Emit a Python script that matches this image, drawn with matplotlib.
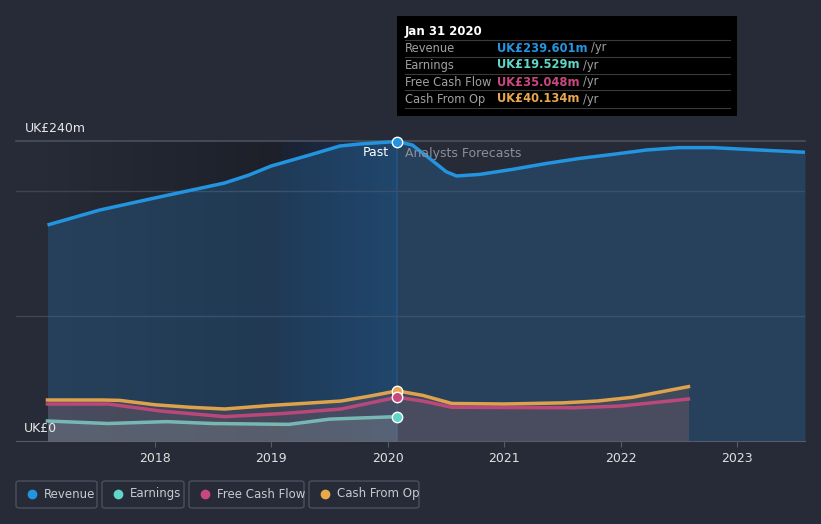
import numpy as np
import matplotlib
matplotlib.use('Agg')
import matplotlib.pyplot as plt
from matplotlib.patches import FancyBboxPatch, Rectangle
from matplotlib.colors import to_rgb

# dades llegides del gràfic (anys decimals, milions de lliures)
rev_x = [2017.08, 2017.53, 2018.0, 2018.6, 2018.81, 2019.0, 2019.33, 2019.59, 2019.76, 2020.08,
         2020.21, 2020.36, 2020.50, 2020.59, 2020.79, 2021.07, 2021.36, 2021.64, 2021.93, 2022.22,
         2022.50, 2022.79, 2023.08, 2023.36, 2023.58]
rev_y = [172.8, 184.8, 194.4, 206.4, 212.8, 220.0, 228.8, 236.0, 237.6, 239.6,
         236.8, 226.0, 215.5, 212.0, 213.3, 217.3, 222.0, 226.0, 229.3, 232.8,
         234.7, 234.7, 233.3, 232.0, 231.0]

earn_x = [2017.08, 2017.6, 2018.1, 2018.5, 2019.15, 2019.5, 2020.08]
earn_y = [16.0, 14.0, 15.5, 14.0, 13.3, 17.5, 19.5]

fcf_x = [2017.08, 2017.6, 2018.05, 2018.6, 2019.1, 2019.6, 2020.08,
         2020.3, 2020.55, 2021.0, 2021.6, 2022.0, 2022.58]
fcf_y = [29.6, 29.6, 24.0, 19.5, 22.0, 25.6, 35.0,
         32.0, 27.0, 26.8, 26.6, 28.0, 33.6]

cfo_x = [2017.08, 2017.55, 2017.7, 2018.0, 2018.3, 2018.6, 2019.0, 2019.35, 2019.6, 2019.85, 2020.08,
         2020.3, 2020.55, 2021.0, 2021.5, 2021.8, 2022.1, 2022.58]
cfo_y = [32.8, 32.8, 32.5, 29.0, 27.0, 25.6, 28.5, 30.5, 32.0, 36.0, 40.1,
         36.5, 30.0, 29.6, 30.5, 32.0, 35.0, 43.5]

anys = [2018, 2019, 2020, 2021, 2022, 2023]
avui = 2020.08
inici_destacat = 2019.08

noms = ['Revenue', 'Earnings', 'Free Cash Flow', 'Cash From Op']
valors = ['UK£239.601m', 'UK£19.529m', 'UK£35.048m', 'UK£40.134m']
colors = ['#2394df', '#5fd6c8', '#c8487e', '#e8a84c']

bg = '#262b37'
fig = plt.figure(figsize=(8.21, 5.24), dpi=100, facecolor=bg)
W, H = 821, 524
ax = fig.add_axes([16 / W, 1 - 441 / H, (805 - 16) / W, 300 / H])
ax.set_facecolor(bg)
ax.set_xlim(2016.81, 2023.58)
ax.set_ylim(0, 240)


def gradient(x0, x1, c0, c1, z=0):
    c0 = np.array(to_rgb(c0)); c1 = np.array(to_rgb(c1))
    t = np.linspace(0, 1, 256)[None, :, None]
    img = c0 + (c1 - c0) * t
    ax.imshow(img, extent=[x0, x1, 0, 240], aspect='auto', zorder=z, interpolation='bilinear')


# fons: passat fosc, darrer any en blau
gradient(rev_x[0], inici_destacat, '#262b37', '#1d2029')
gradient(inici_destacat, avui, '#1c2232', '#1a3450')
ax.axvline(avui, color='#24466e', lw=1.2, zorder=1)

# revenue
ax.fill_between(rev_x, 0, rev_y, color='#2a6ea8', alpha=0.33, lw=0, zorder=2)
ax.plot(rev_x, rev_y, color=colors[0], lw=2.5, zorder=6, clip_on=False, solid_capstyle='butt')

# fluxos de caixa
ax.fill_between(cfo_x, 0, cfo_y, color='#6e5c60', alpha=0.35, lw=0, zorder=3)
ax.fill_between(fcf_x, 0, fcf_y, color='#7a5868', alpha=0.18, lw=0, zorder=3)
ax.fill_between(earn_x, 0, earn_y, color='#a8c0c0', alpha=0.18, lw=0, zorder=3)
ax.plot(cfo_x, cfo_y, color=colors[3], lw=2.5, zorder=6, alpha=0.95)
ax.plot(fcf_x, fcf_y, color=colors[2], lw=2.5, zorder=6, alpha=0.9)
ax.plot(earn_x, earn_y, color='#7cc4bd', lw=2.5, zorder=6, alpha=0.9)

# punts a Jan 31 2020
for yv, c in zip([rev_y[9], cfo_y[10], fcf_y[6], earn_y[6]], [colors[0], colors[3], colors[2], colors[1]]):
    ax.plot([avui], [yv], 'o', ms=7.5, color=c, mec='white', mew=1.0, zorder=8, clip_on=False)

# graella
for yv in [100, 200]:
    ax.axhline(yv, color='#3e4452', lw=1, zorder=1.5)
ax.axhline(240, color='#4a505c', lw=1.2, zorder=1.5, clip_on=False)

for s in ['top', 'right', 'left']:
    ax.spines[s].set_visible(False)
ax.spines['bottom'].set_color('#555b68')
ax.set_xticks(anys)
ax.set_xticklabels([str(a) for a in anys], color='#e0e0e0', fontsize=9)
ax.tick_params(axis='x', length=4, color='#555b68', pad=4)
ax.set_yticks([])

fig.text(25 / W, 1 - 129 / H, 'UK£240m', color='#e8e8e8', fontsize=9, va='center')
fig.text(24 / W, 1 - 429 / H, 'UK£0', color='#e8e8e8', fontsize=9, va='center')
fig.text(389 / W, 1 - 153 / H, 'Past', color='#ffffff', fontsize=9, va='center', ha='right')
fig.text(405 / W, 1 - 153 / H, 'Analysts Forecasts', color='#8a909a', fontsize=9, va='center')

# tooltip
fig.patches.append(Rectangle((397 / W, 1 - 116 / H), 340 / W, 100 / H, transform=fig.transFigure,
                             facecolor='#000000', edgecolor='none', zorder=10))
fig.text(405 / W, 1 - 31 / H, 'Jan 31 2020', color='white', fontsize=8.5, fontweight='bold',
         va='center', zorder=11)
for i in range(4):
    yy = 48 + i * 17
    fig.add_artist(plt.Line2D([405 / W, 730 / W], [1 - (yy - 8.5) / H] * 2, color='#3a3a3a',
                              lw=0.8, transform=fig.transFigure, zorder=11))
    fig.text(405 / W, 1 - yy / H, noms[i], color='#a0a0a0', fontsize=8.3, va='center', zorder=11)
    t = fig.text(497 / W, 1 - yy / H, valors[i], color=colors[i], fontsize=8.3, fontweight='bold',
                 va='center', zorder=11)
    fig.canvas.draw()
    bb = t.get_window_extent()
    fig.text(bb.x1 / W + 3 / W, 1 - yy / H, '/yr', color='#a0a0a0', fontsize=8.3, va='center', zorder=11)
fig.add_artist(plt.Line2D([405 / W, 730 / W], [1 - (99 + 8.5) / H] * 2, color='#3a3a3a',
                          lw=0.8, transform=fig.transFigure, zorder=11))

# llegenda
caixes = [(16, 97), (102, 184), (189, 304), (309, 419)]
for (x0, x1), nom, c in zip(caixes, noms, colors):
    fig.patches.append(FancyBboxPatch((x0 / W, 1 - 508 / H), (x1 - x0) / W, 27 / H,
                                      boxstyle='round,pad=0,rounding_size=0.004',
                                      transform=fig.transFigure, facecolor='none',
                                      edgecolor='#4a505c', lw=1))
    fig.add_artist(plt.Line2D([(x0 + 16) / W], [1 - 494 / H], marker='o', ms=6, color=c,
                              transform=fig.transFigure))
    fig.text((x0 + 28) / W, 1 - 494 / H, nom, color='#c8cad0', fontsize=8.5, va='center')

fig.savefig('out.png', dpi=100, facecolor=bg)
